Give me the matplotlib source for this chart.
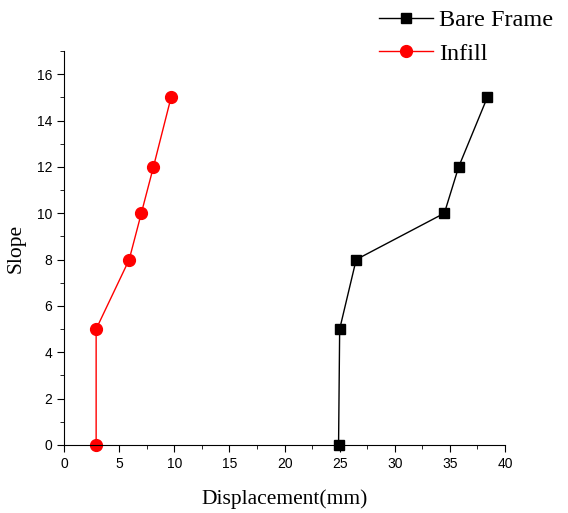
import numpy as np
import matplotlib.pyplot as plt
from matplotlib.ticker import MultipleLocator

bare_x = [24.9, 25.0, 26.5, 34.5, 35.8, 38.4]
bare_y = [0, 5, 8, 10, 12, 15]
infill_x = [2.9, 2.9, 5.9, 7.0, 8.1, 9.7]
infill_y = [0, 5, 8, 10, 12, 15]

fig = plt.figure(figsize=(5.68, 5.13), dpi=100)
ax = fig.add_axes([0.113, 0.1326, 0.776, 0.768])

l1, = ax.plot(bare_x, bare_y, '-s', color='black', lw=1, ms=7.5, label='Bare Frame', clip_on=False)
l2, = ax.plot(infill_x, infill_y, '-o', color='red', lw=1, ms=8.5, label='Infill', clip_on=False)

ax.set_xlim(0, 40)
ax.set_ylim(0, 17)
ax.xaxis.set_major_locator(MultipleLocator(5))
ax.xaxis.set_minor_locator(MultipleLocator(2.5))
ax.yaxis.set_major_locator(MultipleLocator(2))
ax.yaxis.set_minor_locator(MultipleLocator(1))
for s in ['top', 'right']:
    ax.spines[s].set_visible(False)
ax.tick_params(which='major', direction='out', length=5, labelsize=10)
ax.tick_params(which='minor', direction='out', length=3)
for lab in ax.get_xticklabels() + ax.get_yticklabels():
    lab.set_family('Liberation Sans')

ax.set_xlabel('Displacement(mm)', family='Liberation Serif', fontsize=15.5, labelpad=13)
ax.set_ylabel('Slope', family='Liberation Serif', fontsize=15.5, labelpad=8)

fig.legend(handles=[l1, l2], loc='upper right', bbox_to_anchor=(1.012, 1.025), frameon=False,
           prop={'family': 'Liberation Serif', 'size': 17.5}, handlelength=2.2, handletextpad=0.25,
           labelspacing=0.48)

fig.savefig('out.png', dpi=100)
